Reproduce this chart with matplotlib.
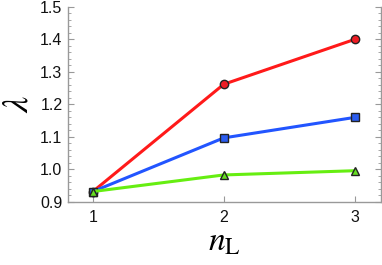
import matplotlib
matplotlib.use("Agg")
import matplotlib.pyplot as plt
from matplotlib.ticker import MultipleLocator

plt.rcParams["font.family"] = ["Liberation Sans", "DejaVu Sans"]
plt.rcParams["mathtext.fontset"] = "stix"

n_L = [1, 2, 3]
lam_red = [0.932, 1.262, 1.400]
lam_blue = [0.932, 1.097, 1.160]
lam_green = [0.932, 0.983, 0.996]

fig = plt.figure(figsize=(3.82, 2.65), dpi=100)
ax = fig.add_axes([0.178, 0.238, 0.819, 0.736])

ax.plot(n_L, lam_red, "-o", color="#ff1a1a", lw=2.2, ms=6,
        mfc="#ee1c24", mec="#222222", mew=1.0, zorder=3)
ax.plot(n_L, lam_blue, "-s", color="#2255ff", lw=2.2, ms=5.5,
        mfc="#2a5cf0", mec="#222222", mew=1.0, zorder=3)
ax.plot(n_L, lam_green, "-^", color="#66ee11", lw=2.2, ms=6,
        mfc="#66dd22", mec="#222222", mew=1.0, zorder=3)

ax.set_xlim(0.81, 3.2)
ax.set_ylim(0.9, 1.5)
ax.set_xticks([1, 2, 3])
ax.yaxis.set_major_locator(MultipleLocator(0.1))
ax.yaxis.set_minor_locator(MultipleLocator(0.02))
ax.yaxis.set_major_formatter(matplotlib.ticker.FormatStrFormatter("%.1f"))

ax.spines["top"].set_visible(False)
for s in ["left", "right", "bottom"]:
    ax.spines[s].set_color("#999999")
    ax.spines[s].set_linewidth(1.0)

ax.tick_params(axis="both", which="both", direction="in", colors="#999999",
               labelcolor="#111111", labelsize=11.5)
ax.tick_params(axis="y", which="both", left=True, right=True)
ax.tick_params(axis="y", which="major", length=4, pad=4)
ax.tick_params(axis="y", which="minor", length=2.5)
ax.tick_params(axis="x", which="major", length=4, pad=6)

ax.set_xlabel(r"$n_\mathrm{L}$", fontsize=24, labelpad=1)
ax.set_ylabel(r"$\lambda$", fontsize=26, va="center")
ax.yaxis.set_label_coords(-0.16, 0.5)

fig.savefig("out.png", dpi=100)
